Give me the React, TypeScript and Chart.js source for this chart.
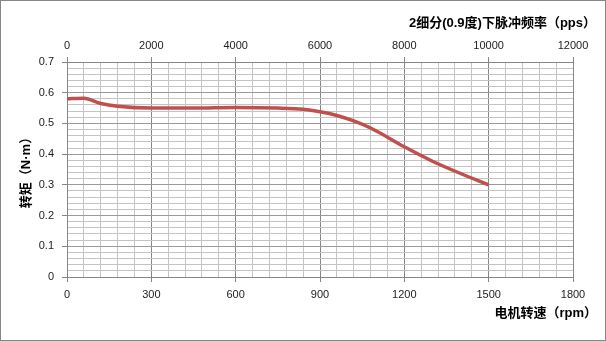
import React, { useEffect, useRef } from "react";
import { Chart, registerables } from "chart.js";

Chart.register(...registerables);

const speedRpm = [0, 60, 120, 180, 300, 450, 600, 750, 840, 900, 960, 1020, 1080, 1200, 1300, 1400, 1500];
const torqueNm = [0.58, 0.582, 0.565, 0.556, 0.55, 0.55, 0.552, 0.55, 0.546, 0.538, 0.526, 0.508, 0.485, 0.424, 0.377, 0.337, 0.3];
const topTitle = "2细分(0.9度)下脉冲频率（pps）";
const bottomTitle = "电机转速（rpm）";
const leftTitle = "转矩（N·m）";

const FONT = "'Liberation Sans', 'Noto Sans CJK SC', sans-serif";
const TICK_FONT = "'Liberation Sans', 'DejaVu Sans', sans-serif";

const isMult = (v: number, step: number) => Math.abs(v / step - Math.round(v / step)) < 1e-6;

export default function App() {
  const ref = useRef<HTMLCanvasElement | null>(null);
  useEffect(() => {
    document.body.style.margin = "0";
    const ctx = ref.current!.getContext("2d")!;
    const titlesPlugin = {
      id: "titles",
      afterDraw(chart: any) {
        const c = chart.ctx;
        const a = chart.chartArea;
        c.save();
        c.fillStyle = "#000";
        c.font = `bold 13px ${FONT}`;
        c.textAlign = "right";
        c.textBaseline = "middle";
        c.fillText(topTitle, 596, 23);
        c.fillText(bottomTitle, 597, 313);
        c.translate(26, (a.top + a.bottom) / 2);
        c.rotate(-Math.PI / 2);
        c.textAlign = "center";
        c.fillText(leftTitle, 0, 0);
        c.restore();
        c.save();
        c.strokeStyle = "#868686";
        c.lineWidth = 1;
        c.strokeRect(0.5, 0.5, chart.width - 1, chart.height - 1);
        c.restore();
      },
    };
    const chart = new Chart(ctx, {
      type: "line",
      data: {
        datasets: [
          {
            data: speedRpm.map((x, i) => ({ x, y: torqueNm[i] })),
            borderColor: "#C0504D",
            borderWidth: 3.5,
            pointRadius: 0,
            cubicInterpolationMode: "monotone",
            fill: false,
          },
        ],
      },
      options: {
        animation: false,
        responsive: false,
        layout: { padding: { left: 0, right: 33, top: 0, bottom: 0 } },
        plugins: { legend: { display: false }, tooltip: { enabled: false } },
        scales: {
          x: {
            type: "linear",
            position: "bottom",
            min: 0,
            max: 1800,
            afterFit: (s: any) => { s.height = 64; },
            border: { color: "#868686", width: 1 },
            grid: {
              color: (c: any) => (isMult(c.tick.value, 300) ? "#868686" : "#c4c4c4"),
              tickColor: (c: any) => (isMult(c.tick.value, 300) ? "#868686" : "rgba(0,0,0,0)"),
              tickLength: 5,
            },
            ticks: {
              stepSize: 60,
              autoSkip: false,
              maxRotation: 0,
              padding: 6,
              color: "#222",
              font: { family: TICK_FONT, size: 11 },
              callback: (v: any) => (isMult(v, 300) ? String(v) : ""),
            },
          },
          x2: {
            type: "linear",
            position: "top",
            display: true,
            min: 0,
            max: 12000,
            afterFit: (s: any) => { s.height = 62; },
            border: { color: "#868686", width: 1 },
            grid: { drawOnChartArea: false, color: "#868686", tickLength: 5 },
            ticks: {
              stepSize: 2000,
              maxRotation: 0,
              padding: 4,
              color: "#222",
              font: { family: TICK_FONT, size: 11 },
              callback: (v: any) => String(v),
            },
          },
          y: {
            type: "linear",
            min: 0,
            max: 0.7,
            afterFit: (s: any) => { s.width = 67; },
            border: { color: "#868686", width: 1 },
            grid: {
              color: (c: any) => (isMult(c.tick.value, 0.1) ? "#9a9a9a" : "#c4c4c4"),
              tickColor: (c: any) => (isMult(c.tick.value, 0.1) ? "#868686" : "rgba(0,0,0,0)"),
              tickLength: 5,
            },
            ticks: {
              stepSize: 0.02,
              autoSkip: false,
              padding: 8,
              color: "#222",
              font: { family: TICK_FONT, size: 11 },
              callback: (v: any) => (isMult(v, 0.1) ? String(Math.round(v * 10) / 10) : ""),
            },
          },
        },
      },
      plugins: [titlesPlugin],
    } as any);
    return () => chart.destroy();
  }, []);
  return (
    <div style={{ position: "absolute", left: 0, top: 0, width: 606, height: 341 }}>
      <canvas ref={ref} width={606} height={341} style={{ display: "block" }} />
    </div>
  );
}
